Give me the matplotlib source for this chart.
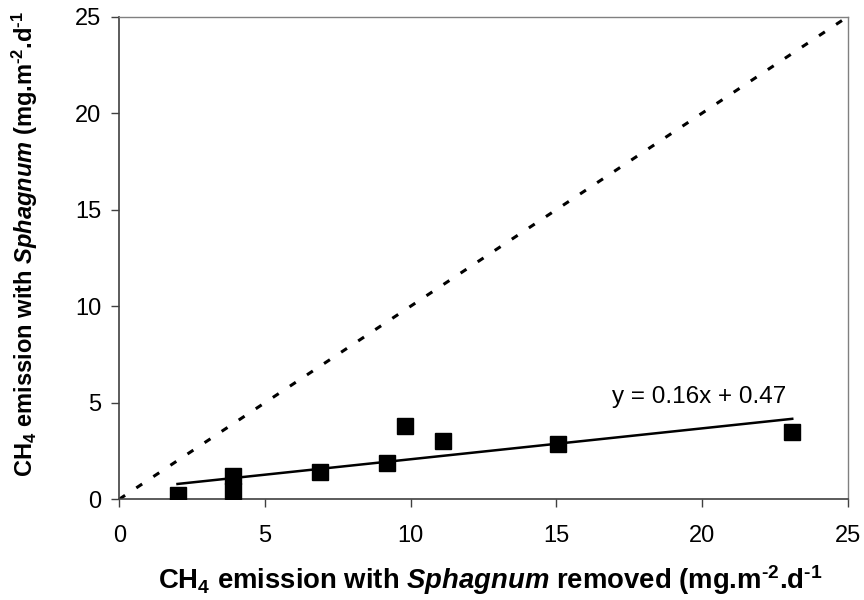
import matplotlib
matplotlib.use("Agg")
import matplotlib.pyplot as plt
import numpy as np

plt.rcParams['font.family'] = ['Liberation Sans', 'DejaVu Sans']
plt.rcParams['mathtext.fontset'] = 'custom'
plt.rcParams['mathtext.rm'] = 'Liberation Sans:bold'
plt.rcParams['mathtext.it'] = 'Liberation Sans:italic:bold'
plt.rcParams['mathtext.bf'] = 'Liberation Sans:bold'

# Data
removed = [2.0, 3.9, 3.9, 6.9, 9.2, 9.8, 11.1, 15.05, 23.1]
with_sphagnum = [0.2, 1.2, 0.4, 1.4, 1.9, 3.8, 3.0, 2.85, 3.5]
slope = 0.16
intercept = 0.47
one_to_one = [0, 25]
x_ticks = [0, 5, 10, 15, 20, 25]
y_ticks = [0, 5, 10, 15, 20, 25]

fig = plt.figure(figsize=(8.64, 6.0), dpi=100)
ax = fig.add_axes([0.138, 0.168, 0.843, 0.804])

# 1:1 dotted line
ax.plot(one_to_one, one_to_one, color='black', lw=2.2,
        linestyle=(0, (2.3, 4.4)), zorder=2)

# trendline
xs = np.array([min(removed), max(removed)])
ax.plot(xs, slope * xs + intercept, color='black', lw=1.8, zorder=3)

# data points
ax.plot(removed, with_sphagnum, linestyle='none', marker='s', markersize=11.3,
        color='black', zorder=4)

ax.text(16.9, 5.3, 'y = 0.16x + 0.47', fontsize=17.5, va='center', ha='left')

ax.set_xlim(0, 25)
ax.set_ylim(0, 25)
ax.set_xticks(x_ticks)
ax.set_yticks(y_ticks)
ax.tick_params(axis='both', direction='out', length=5.8, width=1, labelsize=17,
               color='#404040')
ax.tick_params(axis='x', pad=13)
ax.tick_params(axis='y', pad=7)

for s in ['left', 'bottom']:
    ax.spines[s].set_color('#404040')
    ax.spines[s].set_linewidth(1.2)
for s in ['top', 'right']:
    ax.spines[s].set_color('#808080')
    ax.spines[s].set_linewidth(1.0)

ax.set_xlabel(r'CH$_{\mathrm{4}}$ emission with $\mathit{Sphagnum}$ removed (mg.m$^{\mathrm{\text{-}2}}$.d$^{\mathrm{\text{-}1}}$',
              fontsize=19.8, fontweight='bold')
ax.set_ylabel(r'CH$_{\mathrm{4}}$ emission with $\mathit{Sphagnum}$ (mg.m$^{\mathrm{\text{-}2}}$.d$^{\mathrm{\text{-}1}}$',
              fontsize=17, fontweight='bold')
ax.xaxis.set_label_coords(0.509, -0.133)
ax.yaxis.set_label_coords(-0.109, 0.529)

fig.savefig('out.png', dpi=100)
